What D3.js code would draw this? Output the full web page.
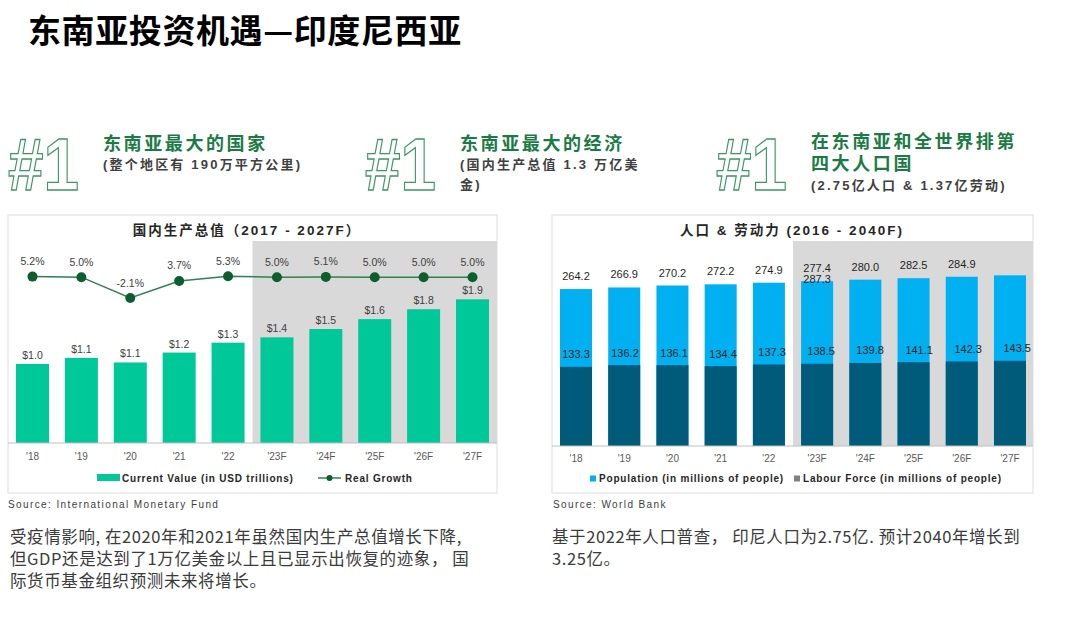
<!DOCTYPE html>
<html>
<head>
<meta charset="utf-8">
<title>东南亚投资机遇—印度尼西亚</title>
<script src="https://d3js.org/d3.v7.min.js"></script>
<style>
  body { margin: 0; background: #fff; }
  svg text { font-family: "Liberation Sans", "Noto Sans CJK SC", sans-serif; }
  .cjk { font-family: "Noto Sans CJK SC", sans-serif !important; }
  .box { fill: #fff; stroke: #e3e3e3; stroke-width: 1.2px; }
  .forecast { fill: #d9d9d9; }
  .baseline { stroke: #bfbfbf; stroke-width: 1px; }
  .chart-title { font-size: 13.5px; font-weight: bold; fill: #262626; letter-spacing: 2px; }
  .tick text { font-size: 10px; fill: #595959; }
  .val { font-size: 10.5px; fill: #404040; }
  .legend { font-size: 10px; font-weight: bold; fill: #262626; letter-spacing: 0.8px; }
  .source { font-size: 10px; fill: #404040; letter-spacing: 1.4px; }
  .body { font-size: 16.5px; fill: #3a3a3a; letter-spacing: 0.6px; }
</style>
</head>
<body>
<svg id="page" width="1080" height="619"></svg>
<script>
// ---- data ----
var years = ["'18", "'19", "'20", "'21", "'22", "'23F", "'24F", "'25F", "'26F", "'27F"];
var forecastStart = "'23F";

// GDP, current value in USD trillions, and real growth in %
var gdpValue  = [1.04, 1.12, 1.06, 1.19, 1.32, 1.39, 1.50, 1.63, 1.76, 1.89];
var gdpGrowth = [5.2, 5.0, -2.1, 3.7, 5.3, 5.0, 5.1, 5.0, 5.0, 5.0];

// population and labour force, millions of people
var population  = [264.2, 266.9, 270.2, 272.2, 274.9, 277.4, 280.0, 282.5, 284.9, 287.3];
var labourForce = [133.3, 136.2, 136.1, 134.4, 137.3, 138.5, 139.8, 141.1, 142.3, 143.5];

// headline blocks
var highlightTitles = [["东南亚最大的国家"], ["东南亚最大的经济"], ["在东南亚和全世界排第", "四大人口国"]];
var highlightNotes  = [["(整个地区有 190万平方公里)"], ["(国内生产总值 1.3 万亿美", "金)"], ["(2.75亿人口 & 1.37亿劳动)"]];

var leftNote  = ["受疫情影响, 在2020年和2021年虽然国内生产总值增长下降,", "但GDP还是达到了1万亿美金以上且已显示出恢复的迹象， 国", "际货币基金组织预测未来将增长。"];
var rightNote = ["基于2022年人口普查， 印尼人口为2.75亿. 预计2040年增长到", "3.25亿。"];

var svg = d3.select("#page");
svg.append("rect").attr("width", 1080).attr("height", 619).attr("fill", "#fff");

// ---- page title ----
svg.append("text")
    .attr("class", "cjk")
    .attr("x", 28).attr("y", 43)
    .attr("font-size", 33).attr("font-weight", 700).attr("fill", "#000")
    .attr("letter-spacing", 0.6)
    .text("东南亚投资机遇—印度尼西亚");

// ---- #1 highlights ----
var hlX = [8, 365, 716];
highlightTitles.forEach(function(lines, i) {
  var g = svg.append("g").attr("transform", "translate(" + hlX[i] + ",0)");
  g.append("text")
      .attr("x", 0).attr("y", 190)
      .attr("font-size", 74).attr("font-weight", "bold")
      .attr("textLength", 71).attr("lengthAdjust", "spacingAndGlyphs")
      .attr("fill", "#fff").attr("stroke", "#3d9665").attr("stroke-width", 1.3)
      .text("#1");
  var y0 = lines.length > 1 ? 148 : 150;
  var head = g.append("text").attr("class", "cjk")
      .attr("font-size", 18).attr("font-weight", 700)
      .attr("letter-spacing", 2.6).attr("fill", "#1b7b44");
  lines.forEach(function(t, k) {
    head.append("tspan").attr("x", 95).attr("y", y0 + k * 22).text(t);
  });
  var n0 = lines.length > 1 ? 190 : 169;
  var sub = g.append("text")
      .attr("font-size", 13).attr("font-weight", "bold")
      .attr("letter-spacing", 2.2).attr("fill", "#404040");
  highlightNotes[i].forEach(function(t, k) {
    sub.append("tspan").attr("x", 95).attr("y", n0 + k * 20).text(t);
  });
});

// ---- left chart: GDP ----
var L = svg.append("g");
L.append("rect").attr("class", "box").attr("x", 8).attr("y", 215).attr("width", 489).attr("height", 278);

var xL = d3.scaleBand().domain(years).range([16, 489]).paddingInner(0.325).paddingOuter(0);
var yL = d3.scaleLinear().domain([0, 2]).range([443, 291]);
var yG = d3.scaleLinear().domain([-2.1, 5.3]).range([298, 276.3]);
var stepL = xL.step();
var fxL = xL(forecastStart) - (stepL - xL.bandwidth()) / 2;

L.append("rect").attr("class", "forecast")
    .attr("x", fxL).attr("y", 241)
    .attr("width", 497 - fxL).attr("height", 443 - 241);

L.append("text").attr("class", "chart-title")
    .attr("x", 247).attr("y", 235).attr("text-anchor", "middle")
    .text("国内生产总值（2017 - 2027F）");

L.selectAll(".gdp-bar").data(gdpValue).join("rect")
    .attr("class", "gdp-bar")
    .attr("x", function(d, i) { return xL(years[i]); })
    .attr("y", function(d) { return yL(d); })
    .attr("width", xL.bandwidth())
    .attr("height", function(d) { return yL(0) - yL(d); })
    .attr("fill", "#00c899");

L.selectAll(".gdp-val").data(gdpValue).join("text")
    .attr("class", "val")
    .attr("x", function(d, i) { return xL(years[i]) + xL.bandwidth() / 2; })
    .attr("y", function(d) { return yL(d) - 5; })
    .attr("text-anchor", "middle")
    .text(function(d) { return "$" + d.toFixed(1); });

L.append("line").attr("class", "baseline").attr("x1", 8).attr("x2", 497).attr("y1", 443).attr("y2", 443);

var lineGen = d3.line()
    .x(function(d, i) { return xL(years[i]) + xL.bandwidth() / 2; })
    .y(function(d) { return yG(d); });
L.append("path").datum(gdpGrowth)
    .attr("d", lineGen).attr("fill", "none")
    .attr("stroke", "#2f8050").attr("stroke-width", 1.5);
L.selectAll(".dot").data(gdpGrowth).join("circle")
    .attr("cx", function(d, i) { return xL(years[i]) + xL.bandwidth() / 2; })
    .attr("cy", function(d) { return yG(d); })
    .attr("r", 5).attr("fill", "#0b5e2e");
L.selectAll(".g-val").data(gdpGrowth).join("text")
    .attr("class", "val")
    .attr("x", function(d, i) { return xL(years[i]) + xL.bandwidth() / 2; })
    .attr("y", function(d) { return yG(d) - 11.5; })
    .attr("text-anchor", "middle")
    .text(function(d) { return d.toFixed(1) + "%"; });

var axL = L.append("g").attr("transform", "translate(0,443)")
    .call(d3.axisBottom(xL).tickSize(0).tickPadding(10));
axL.select(".domain").remove();

// legend
L.append("rect").attr("x", 97).attr("y", 474).attr("width", 23).attr("height", 7).attr("fill", "#00c899");
L.append("text").attr("class", "legend").attr("x", 122).attr("y", 481.5).text("Current Value (in USD trillions)");
L.append("line").attr("x1", 318).attr("x2", 341).attr("y1", 478).attr("y2", 478).attr("stroke", "#2f8050").attr("stroke-width", 1.5);
L.append("circle").attr("cx", 329.5).attr("cy", 478).attr("r", 3).attr("fill", "#0b5e2e");
L.append("text").attr("class", "legend").attr("x", 345).attr("y", 481.5).text("Real Growth");

L.append("text").attr("class", "source").attr("x", 8).attr("y", 508).text("Source: International Monetary Fund");

// ---- right chart: population & labour ----
var R = svg.append("g");
R.append("rect").attr("class", "box").attr("x", 552).attr("y", 215).attr("width", 481).attr("height", 278);

var xR = d3.scaleBand().domain(years).range([560, 1026]).paddingInner(0.336).paddingOuter(0);
var yR = d3.scaleLinear().domain([0, 300]).range([446, 267.8]);
var stepR = xR.step();
var fx = xR(forecastStart) - (stepR - xR.bandwidth()) / 2;

R.append("rect").attr("class", "forecast")
    .attr("x", fx).attr("y", 241).attr("width", 1033 - fx).attr("height", 446 - 241);

R.append("text").attr("class", "chart-title")
    .attr("x", 792).attr("y", 235).attr("text-anchor", "middle")
    .text("人口 & 劳动力 (2016 - 2040F)");

R.selectAll(".pop").data(population).join("rect")
    .attr("x", function(d, i) { return xR(years[i]); })
    .attr("y", function(d) { return yR(d); })
    .attr("width", xR.bandwidth())
    .attr("height", function(d) { return yR(0) - yR(d); })
    .attr("fill", "#00b0f0");
R.selectAll(".lab").data(labourForce).join("rect")
    .attr("x", function(d, i) { return xR(years[i]); })
    .attr("y", function(d) { return yR(d); })
    .attr("width", xR.bandwidth())
    .attr("height", function(d) { return yR(0) - yR(d); })
    .attr("fill", "#005a79");

// the last population label sits under the '23F one in the source slide
R.selectAll(".pop-val").data(population).join("text")
    .attr("class", "val").style("fill", "#1f1f1f").style("font-size", "11px")
    .attr("x", function(d, i) {
      var c = i === years.length - 1 ? forecastStart : years[i];
      return xR(c) + xR.bandwidth() / 2;
    })
    .attr("y", function(d, i) {
      if (i === years.length - 1) return yR(population[years.indexOf(forecastStart)]) - 9 + 11;
      return yR(d) - 9;
    })
    .attr("text-anchor", "middle")
    .text(function(d) { return d.toFixed(1); });

R.selectAll(".lab-val").data(labourForce).join("text")
    .attr("class", "val").style("fill", "#1f1f1f").style("font-size", "11px")
    .attr("x", function(d, i) { return xR(years[i]) + xR.bandwidth() / 2 + i * 0.8; })
    .attr("y", function(d) { return yR(d) - 8.5; })
    .attr("text-anchor", "middle")
    .text(function(d) { return d.toFixed(1); });

R.append("line").attr("class", "baseline").attr("x1", 552).attr("x2", 1033).attr("y1", 446).attr("y2", 446);

var axR = R.append("g").attr("transform", "translate(0,446)")
    .call(d3.axisBottom(xR).tickSize(0).tickPadding(9));
axR.select(".domain").remove();

R.append("rect").attr("x", 590).attr("y", 475.5).attr("width", 6).attr("height", 6).attr("fill", "#00b0f0");
R.append("text").attr("class", "legend").attr("x", 599).attr("y", 482).text("Population (in millions of people)");
R.append("rect").attr("x", 794).attr("y", 475.5).attr("width", 6).attr("height", 6).attr("fill", "#808080");
R.append("text").attr("class", "legend").attr("x", 803).attr("y", 482).text("Labour Force (in millions of people)");

R.append("text").attr("class", "source").attr("x", 553).attr("y", 508).text("Source: World Bank");

// ---- notes under the charts ----
function note(lines, x) {
  var t = svg.append("text").attr("class", "body cjk");
  lines.forEach(function(s, k) {
    t.append("tspan").attr("x", x).attr("y", 543 + k * 22).text(s);
  });
}
note(leftNote, 10);
note(rightNote, 552);
</script>
</body>
</html>
